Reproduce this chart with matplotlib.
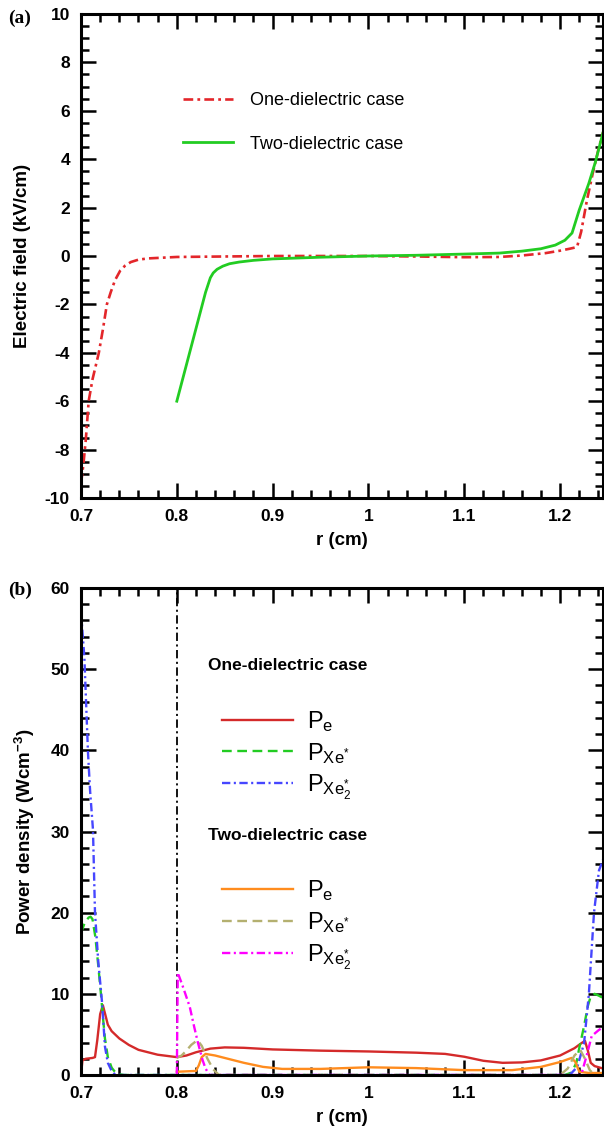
import numpy as np
import matplotlib
matplotlib.use('Agg')
import matplotlib.pyplot as plt
from matplotlib.ticker import MultipleLocator, FuncFormatter

plt.rcParams['font.family'] = ['Liberation Sans', 'DejaVu Sans']
plt.rcParams['axes.unicode_minus'] = False
plt.rcParams['lines.scale_dashes'] = False
plt.rcParams['mathtext.fontset'] = 'custom'
plt.rcParams['mathtext.rm'] = 'Liberation Sans'
plt.rcParams['mathtext.it'] = 'Liberation Sans'
plt.rcParams['mathtext.bf'] = 'Liberation Sans:bold'

# ---------------------------------------------------------------------------
# (a) campo elétrico
# ---------------------------------------------------------------------------
r_one_E = [0.700, 0.7024, 0.705, 0.708, 0.712, 0.7186, 0.723, 0.727, 0.731, 0.7355,
           0.741, 0.746, 0.752, 0.760, 0.770, 0.800, 0.850, 0.900, 1.000, 1.050,
           1.100, 1.1365, 1.160, 1.185, 1.200, 1.210, 1.2177, 1.222, 1.228, 1.234,
           1.240, 1.2448]
E_one = [-9.4, -8.65, -7.6, -6.0, -5.1, -4.0, -3.0, -2.0, -1.5, -1.0,
         -0.6, -0.4, -0.25, -0.15, -0.1, -0.04, -0.02, 0.0, 0.0, -0.02,
         -0.05, -0.04, 0.02, 0.12, 0.22, 0.3, 0.37, 1.0, 2.3, 3.4,
         4.4, 5.1]

r_two_E = [0.800, 0.810, 0.820, 0.830, 0.835, 0.838, 0.842, 0.848, 0.855, 0.865,
           0.880, 0.900, 0.950, 1.000, 1.050, 1.100, 1.1365, 1.160, 1.180, 1.195,
           1.205, 1.2125, 1.220, 1.230, 1.237, 1.2448]
E_two = [-6.0, -4.5, -3.0, -1.5, -0.9, -0.7, -0.55, -0.42, -0.32, -0.25,
         -0.18, -0.12, -0.05, 0.0, 0.03, 0.08, 0.12, 0.2, 0.3, 0.45,
         0.65, 0.95, 1.9, 3.0, 3.9, 5.1]

# ---------------------------------------------------------------------------
# (b) densidade de potência
# ---------------------------------------------------------------------------
# caso com um dielétrico
r_one_pe = [0.700, 0.7015, 0.705, 0.712, 0.7146, 0.717, 0.720, 0.7228, 0.725, 0.728,
            0.732, 0.740, 0.750, 0.760, 0.780, 0.800, 0.810, 0.820, 0.835, 0.850,
            0.870, 0.900, 0.950, 1.000, 1.050, 1.080, 1.100, 1.120, 1.140, 1.160,
            1.180, 1.200, 1.215, 1.222, 1.226, 1.229, 1.232, 1.236, 1.2448]
P_one_pe = [0.0, 1.8, 2.0, 2.1, 2.2, 4.3, 7.5, 8.6, 7.6, 6.2,
            5.4, 4.5, 3.7, 3.1, 2.5, 2.2, 2.4, 2.8, 3.25, 3.4,
            3.35, 3.15, 3.0, 2.9, 2.75, 2.6, 2.25, 1.75, 1.5, 1.55,
            1.8, 2.4, 3.3, 3.9, 4.2, 3.0, 1.5, 1.1, 0.8]

r_one_xe = [0.700, 0.704, 0.708, 0.710, 0.712, 0.715, 0.718, 0.7208, 0.723, 0.725,
            0.728, 0.732, 0.736, 0.740, 0.745, 1.205, 1.212, 1.217, 1.220, 1.225,
            1.229, 1.232, 1.236, 1.240, 1.2448]
P_one_xe = [17.5, 18.8, 19.4, 19.5, 19.2, 17.0, 13.5, 10.0, 7.0, 4.5,
            2.2, 0.9, 0.3, 0.1, 0.0, 0.0, 0.3, 1.5, 3.3, 6.0,
            8.5, 9.7, 10.0, 9.8, 9.5]

r_one_xe2 = [0.700, 0.7035, 0.7073, 0.7095, 0.7125, 0.7146, 0.718, 0.722, 0.725, 0.728,
             0.732, 0.736, 1.210, 1.218, 1.225, 1.230, 1.2354, 1.2406, 1.2448]
P_one_xe2 = [57.0, 51.5, 39.7, 35.0, 30.2, 20.0, 14.0, 8.9, 3.5, 1.5,
             0.5, 0.0, 0.0, 1.0, 3.9, 9.9, 20.0, 25.2, 26.5]

# caso com dois dielétricos
r_two_pe = [0.800, 0.810, 0.820, 0.823, 0.826, 0.830, 0.840, 0.850, 0.870, 0.890,
            0.910, 0.950, 1.000, 1.050, 1.100, 1.150, 1.180, 1.200, 1.212, 1.216,
            1.220, 1.230, 1.2448]
P_two_pe = [0.4, 0.45, 0.5, 1.2, 2.2, 2.6, 2.4, 2.1, 1.5, 1.0,
            0.75, 0.75, 0.95, 0.85, 0.6, 0.6, 1.0, 1.6, 2.1, 1.6,
            0.4, 0.25, 0.25]

r_two_xe = [0.800, 0.805, 0.810, 0.815, 0.8215, 0.826, 0.832, 0.838, 0.844, 1.200,
            1.208, 1.215, 1.221, 1.226, 1.231, 1.236]
P_two_xe = [2.1, 2.4, 3.0, 3.7, 4.3, 3.6, 2.0, 0.7, 0.0, 0.0,
            0.8, 2.4, 3.1, 2.0, 0.6, 0.0]

r_two_xe2 = [0.800, 0.801, 0.806, 0.8135, 0.818, 0.822, 0.827, 0.830, 0.834, 1.222,
             1.228, 1.233, 1.240, 1.2448]
P_two_xe2 = [0.0, 12.6, 11.0, 8.4, 6.0, 4.0, 1.8, 0.8, 0.0, 0.0,
             2.5, 4.8, 5.5, 5.9]

r_interface = 0.80

x_lim = (0.7, 1.2448)

tick_font = dict(family=['Liberation Sans', 'DejaVu Sans'], weight='bold', size=12.5)


def fmt_x(v, pos):
    return '%g' % round(v, 3)


def style_axes(ax, ymin, ymax, ymajor, yminor):
    ax.set_xlim(*x_lim)
    ax.set_ylim(ymin, ymax)
    ax.xaxis.set_major_locator(MultipleLocator(0.1))
    ax.xaxis.set_minor_locator(MultipleLocator(0.02))
    ax.yaxis.set_major_locator(MultipleLocator(ymajor))
    ax.yaxis.set_minor_locator(MultipleLocator(yminor))
    ax.xaxis.set_major_formatter(FuncFormatter(fmt_x))
    ax.yaxis.set_major_formatter(FuncFormatter(lambda v, p: '%d' % v))
    ax.tick_params(which='both', direction='in', top=True, right=True, width=1.8)
    ax.tick_params(which='major', length=11)
    ax.tick_params(which='minor', length=6)
    ax.tick_params(axis='x', which='major', pad=8)
    ax.tick_params(axis='y', which='major', pad=8)
    for lab in ax.get_xticklabels() + ax.get_yticklabels():
        lab.set_fontproperties(tick_font)
    for s in ax.spines.values():
        s.set_linewidth(2.2)
    ax.set_xlabel('r (cm)', fontsize=13.5, fontweight='bold', labelpad=6)


fig = plt.figure(figsize=(6.04, 11.35), dpi=100)
ax1 = fig.add_axes([81 / 604, 1 - 498 / 1135, 522 / 604, 484 / 1135])
ax2 = fig.add_axes([81 / 604, 1 - 1075 / 1135, 522 / 604, 487 / 1135])

# ---- painel (a)
ax1.plot(r_one_E, E_one, color='#e3262a', lw=1.9, dashes=(7, 3, 2, 3),
         label='One-dielectric case')
ax1.plot(r_two_E, E_two, color='#22cc22', lw=2.0, label='Two-dielectric case')
style_axes(ax1, -10, 10, 2, 0.5)
ax1.set_ylabel('Electric field (kV/cm)', fontsize=13.5, fontweight='bold', labelpad=10)
ax1.legend(loc='upper left', bbox_to_anchor=(0.195, 0.838), frameon=False,
           borderpad=0, borderaxespad=0, handlelength=2.8, handletextpad=0.95,
           labelspacing=1.45, prop=dict(size=13))
fig.text(20 / 604, 1 - 18 / 1135, '(a)', family=['Liberation Serif', 'DejaVu Serif'],
         weight='bold', size=14, ha='center', va='center')

# ---- painel (b)
ax2.axvline(r_interface, color='black', lw=1.3, dashes=(6, 2.5, 1.5, 2.5))
h1 = ax2.plot(r_one_pe, P_one_pe, color='#d42a2a', lw=1.7, label=r'P$_\mathregular{e}$')
h2 = ax2.plot(r_one_xe, P_one_xe, color='#22cc22', lw=1.7, dashes=(7, 4),
              label=r'P$_\mathregular{Xe^{*}}$')
h3 = ax2.plot(r_one_xe2, P_one_xe2, color='#4646ff', lw=1.7, dashes=(6, 2.5, 1.5, 2.5),
              label=r'P$_\mathregular{Xe_2^{*}}$')
h4 = ax2.plot(r_two_pe, P_two_pe, color='#ff8c1e', lw=1.7, label=r'P$_\mathregular{e}$')
h5 = ax2.plot(r_two_xe, P_two_xe, color='#b4b070', lw=1.7, dashes=(7, 4),
              label=r'P$_\mathregular{Xe^{*}}$')
h6 = ax2.plot(r_two_xe2, P_two_xe2, color='#ff00ff', lw=1.7, dashes=(6, 2.5, 1.5, 2.5),
              label=r'P$_\mathregular{Xe_2^{*}}$')
style_axes(ax2, 0, 60, 10, 2)
ax2.set_ylabel(r'Power density (Wcm$^{\mathbf{-3}}$)', fontsize=13.5, fontweight='bold',
               labelpad=10)

leg_kw = dict(loc='upper left', frameon=False, borderpad=0, borderaxespad=0,
              handlelength=3.0, handletextpad=0.6, labelspacing=0.3,
              prop=dict(size=17))
leg1 = ax2.legend(handles=h1 + h2 + h3, bbox_to_anchor=(0.270, 0.752), **leg_kw)
ax2.add_artist(leg1)
ax2.legend(handles=h4 + h5 + h6, bbox_to_anchor=(0.270, 0.404), **leg_kw)
ax2.text(0.243, 1 - (665 - 588) / 487, 'One-dielectric case', transform=ax2.transAxes,
         fontsize=12.5, fontweight='bold', ha='left', va='center')
ax2.text(0.243, 1 - (835 - 588) / 487, 'Two-dielectric case', transform=ax2.transAxes,
         fontsize=12.5, fontweight='bold', ha='left', va='center')
fig.text(20 / 604, 1 - 590 / 1135, '(b)', family=['Liberation Serif', 'DejaVu Serif'],
         weight='bold', size=14, ha='center', va='center')

fig.savefig('out.png', dpi=100)
